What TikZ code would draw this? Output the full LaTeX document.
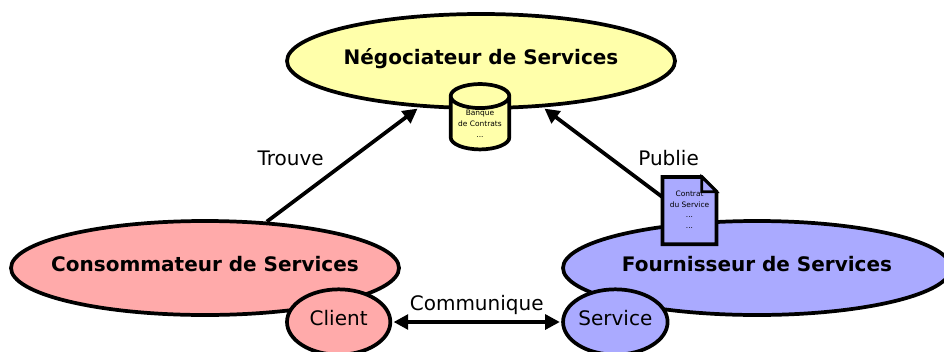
\documentclass[tikz,border=0pt]{standalone}
\usepackage{fontspec}
\setmainfont{DejaVu Sans}
\usetikzlibrary{positioning,shapes.geometric,arrows.meta}

\definecolor{jaune}{HTML}{FFFFAA}
\definecolor{rouge}{HTML}{FFAAAA}
\definecolor{bleu}{HTML}{AAAAFF}

\tikzset{
    role/.style={ellipse, draw, line width=2.8pt, minimum width=291pt, minimum height=70.5pt,
        inner ysep=0pt, inner xsep=-20pt, text depth=6pt, font=\fontsize{15}{18}\selectfont\bfseries},
    acteur/.style={ellipse, draw, line width=2.8pt, minimum width=77.5pt, minimum height=49pt,
        inner sep=0pt, text depth=6pt, font=\fontsize{15}{18}\selectfont},
    fleche/.style={line width=2.8pt, -{Triangle[length=11pt,width=11pt]}},
    double fleche/.style={line width=2.8pt, {Triangle[length=11pt,width=11pt]}-{Triangle[length=11pt,width=11pt]}},
    etiquette/.style={font=\fontsize{15}{18}\selectfont},
    petit/.style={font=\fontsize{5.6}{8}\selectfont, align=center}
}

\begin{document}
\begin{tikzpicture}
    \useasboundingbox (0,0) rectangle (708pt,263.25pt);

    \node[role, fill=jaune] (nego) at (360.75pt,217.5pt) {Négociateur de Services};
    \node[role, fill=rouge, on grid, below left=155.25pt and 207pt of nego] (conso) {Consommateur de Services};
    \node[role, fill=bleu, on grid, below right=155.25pt and 207pt of nego] (fourn) {Fournisseur de Services};

    \draw[fleche, shorten >=1.5pt] (conso) -- node[etiquette, above left=-6pt and 9.75pt] {Trouve} (nego);
    \draw[fleche, shorten >=1.5pt] (fourn) -- node[etiquette, above right=-6pt and 9.75pt] {Publie} (nego);

    \node[acteur, fill=rouge, on grid, below right=40.5pt and 100.25pt of conso] (client) {Client};
    \node[acteur, fill=bleu, on grid, below left=40.5pt and 106.25pt of fourn] (service) {Service};
    \draw[double fleche, shorten >=1pt, shorten <=1pt] (client) -- node[etiquette, above=1pt] {Communique} (service);

    \node[cylinder, shape border rotate=90, shape aspect=0.55, draw, line width=2.8pt, fill=jaune,
        minimum width=44pt, minimum height=49pt, inner sep=0pt, petit,
        on grid, below=47pt of nego, xshift=-.75pt] (banque) {Banque\\de Contrats\\...};

    \node[minimum width=40pt, minimum height=50pt, inner sep=0pt,
        on grid, above left=43pt and 50.6pt of fourn] (contrat) {};
    \draw[line width=2.8pt, fill=bleu, line join=miter]
        (contrat.north west) -- ([xshift=-11pt]contrat.north east) -- ([yshift=-11pt]contrat.north east)
        -- (contrat.south east) -- (contrat.south west) -- cycle;
    \draw[line width=2pt, fill=bleu]
        ([xshift=-11pt]contrat.north east) -- ([xshift=-11pt,yshift=-11pt]contrat.north east)
        -- ([yshift=-11pt]contrat.north east) -- cycle;
    \node[petit, yshift=.7pt] (contrattexte) at (contrat) {Contrat\\du Service\\...\\...};
\end{tikzpicture}
\end{document}
